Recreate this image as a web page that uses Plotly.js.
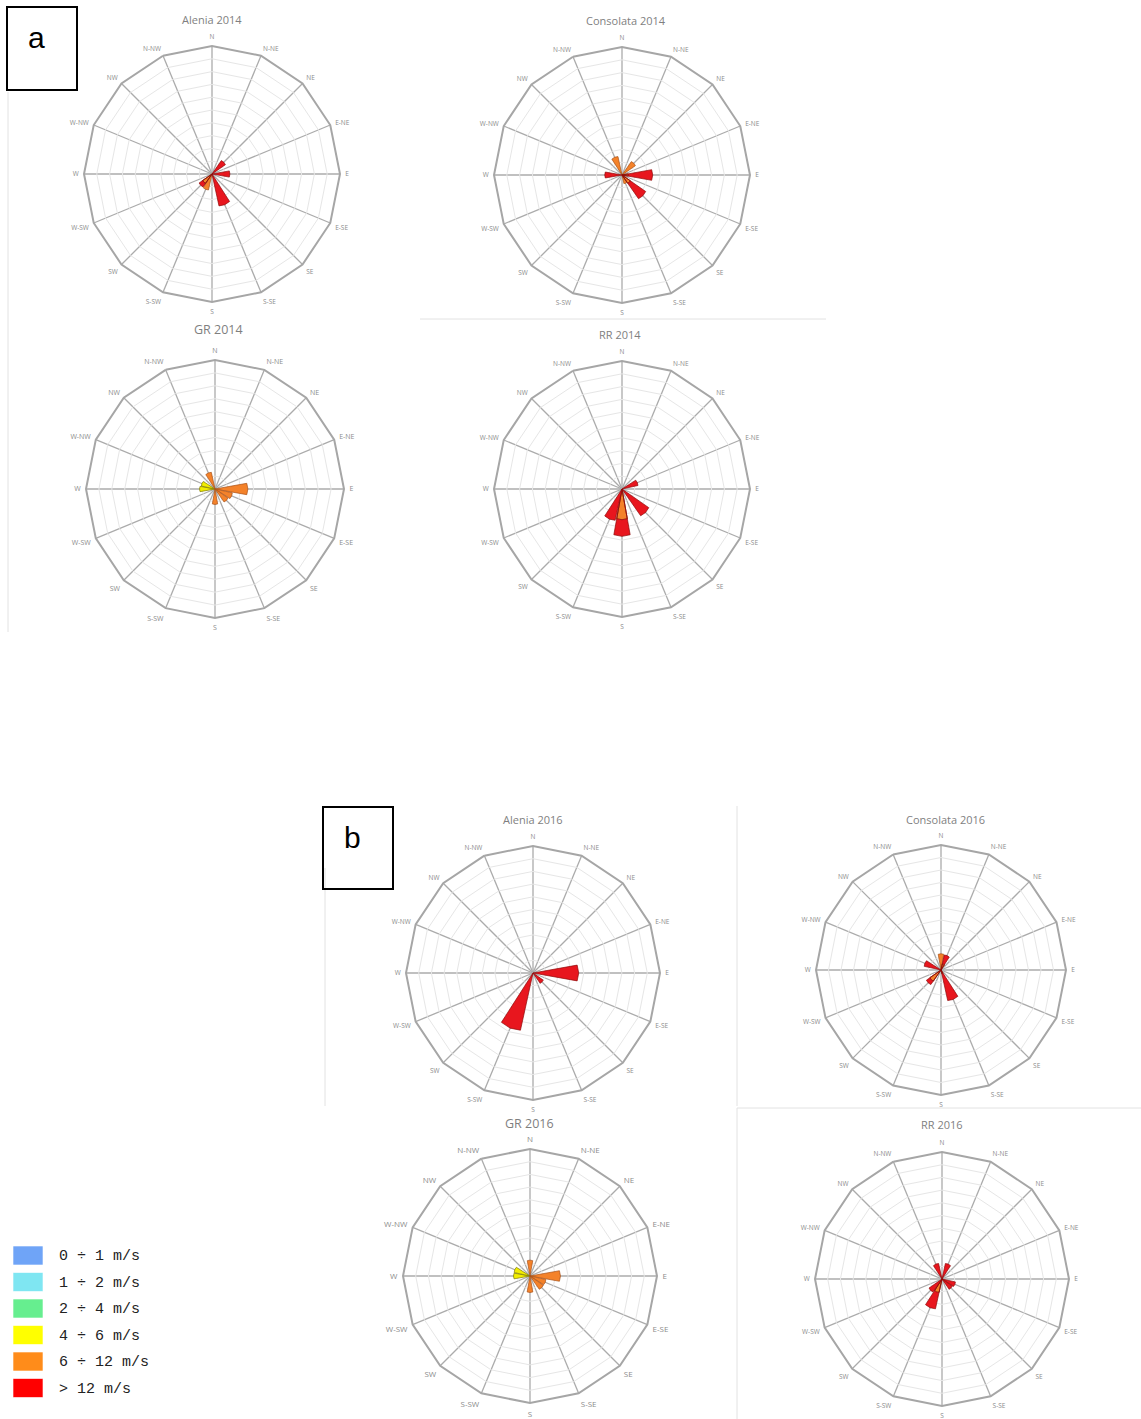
<!DOCTYPE html>
<html>
<head>
<meta charset="utf-8">
<script src="https://cdn.plot.ly/plotly-3.0.1.min.js"></script>
<style>
  html, body { margin: 0; padding: 0; background: #ffffff; }
  #chart { width: 1141px; height: 1419px; }
</style>
</head>
<body>
<div id="chart"></div>
<script>
// Wind direction sectors, clockwise from north
const directions = ['N', 'N-NE', 'NE', 'E-NE', 'E', 'E-SE', 'SE', 'S-SE',
                    'S', 'S-SW', 'SW', 'W-SW', 'W', 'W-NW', 'NW', 'N-NW'];

// Wind speed classes shown in the key
const speedClasses = ['0 ÷ 1 m/s', '1 ÷ 2 m/s', '2 ÷ 4 m/s', '4 ÷ 6 m/s', '6 ÷ 12 m/s', '> 12 m/s'];

// Station / year titles
const roseTitles = ['Alenia 2014', 'Consolata 2014', 'GR 2014', 'RR 2014',
                    'Alenia 2016', 'Consolata 2016', 'GR 2016', 'RR 2016'];

// Frequencies per sector (same order as directions), one array per speed class
const alenia2014_6to12 = [0, 0, 0, 0, 0, 0, 0, 0, 0, 1.3, 0.9, 0, 0, 0, 0, 0];
const alenia2014_gt12  = [0, 0, 1.3, 0, 1.4, 0, 0, 2.6, 0, 0, 0.35, 0, 0, 0, 0, 0];

const consolata2014_6to12 = [0, 0, 1.3, 0, 0.5, 0, 0.8, 0.7, 0, 0, 0, 0, 0, 0, 0, 1.5];
const consolata2014_gt12  = [0, 0, 0, 0, 1.9, 0, 1.5, 0, 0, 0, 0, 0, 1.35, 0, 0, 0];

const gr2014_4to6  = [0, 0, 0, 0, 0, 0, 0, 0, 0, 0, 0, 0, 1.2, 1.1, 0, 0];
const gr2014_6to12 = [0, 0, 0, 0, 2.55, 1.4, 1.25, 0, 1.2, 0, 0, 0, 0, 0, 0, 1.35];

const rr2014_6to12 = [0, 0, 0, 0, 0, 0, 0, 0, 2.4, 0, 0, 0, 0, 0, 0, 0];
const rr2014_gt12  = [0, 0, 0, 1.3, 0, 0, 2.6, 0, 1.3, 2.55, 0, 0, 0, 0, 0, 0];

const alenia2016_gt12 = [0, 0, 0, 0, 3.6, 0, 1.0, 0, 0, 4.7, 0, 0, 0, 0, 0, 0];

const consolata2016_6to12 = [1.3, 0.5, 0, 0, 0, 0, 0, 0.3, 0, 0, 1.1, 0, 0, 0, 0, 0];
const consolata2016_gt12  = [0, 0.75, 0, 0, 0, 0, 0, 2.25, 0, 0, 0.35, 0, 0, 1.4, 0, 0];

const gr2016_4to6  = [0, 0, 0, 0, 0, 0, 0, 0, 0, 0, 0, 0, 1.3, 1.3, 0, 0];
const gr2016_6to12 = [1.25, 0, 0, 0, 2.4, 1.3, 1.3, 0, 1.3, 0, 0, 0, 0, 0, 0, 0];

const rr2016_6to12 = [0, 0, 0, 0, 0, 0, 0, 0, 0, 1.1, 0, 0, 0, 0, 0, 0];
const rr2016_gt12  = [0, 1.27, 0, 0, 0, 1.1, 1.0, 0, 0, 1.35, 1.27, 0, 0, 0, 0, 1.27];

// Series drawn in each rose: [speed class index, values], stacked inner to outer
const roseSeries = [
  [[4, alenia2014_6to12], [5, alenia2014_gt12]],
  [[4, consolata2014_6to12], [5, consolata2014_gt12]],
  [[3, gr2014_4to6], [4, gr2014_6to12]],
  [[4, rr2014_6to12], [5, rr2014_gt12]],
  [[5, alenia2016_gt12]],
  [[4, consolata2016_6to12], [5, consolata2016_gt12]],
  [[3, gr2016_4to6], [4, gr2016_6to12]],
  [[4, rr2016_6to12], [5, rr2016_gt12]]
];

// ---- styling and placement ----
const W = 1141, H = 1419;
const keyColors  = ['#6fa4f7', '#7fe6f2', '#66ee8f', '#ffff00', '#ff8c1a', '#ff0000'];
const barFill    = ['#6fa4f7', '#7fe6f2', '#66ee8f', '#f2ee00', '#f4822a', '#e8161e'];
const barEdge    = ['#3a6fc0', '#3aa8b8', '#2f9a55', '#7e7a00', '#a8521a', '#8e0a0a'];

// rose centres and outer radii in pixels
const roseCenters = [[212, 174], [622, 175], [215, 489], [622, 489],
                     [533, 973], [941, 970], [530, 1276], [942, 1279]];
const roseRadii = [128, 128, 129, 128, 127, 125, 127, 127];
const titlePos = [[212, 20], [626, 21], [218, 329], [620, 335],
                  [533, 819], [945, 820], [529, 1123], [942, 1124]];
const titleSize = [11, 11, 12.5, 11, 11, 11, 12.5, 11];
const tickSize  = [6.5, 6.5, 7, 6.5, 6.5, 6.5, 8, 6.5];

const px = x => x / W;
const py = y => 1 - y / H;

const traces = [];
const layout = {
  width: W, height: H,
  margin: {l: 0, r: 0, t: 0, b: 0},
  paper_bgcolor: '#ffffff',
  showlegend: false,
  font: {family: 'Open Sans, sans-serif'},
  annotations: [],
  shapes: []
};

roseCenters.forEach((c, i) => {
  const key = i === 0 ? 'polar' : 'polar' + (i + 1);
  const [cx, cy] = c;
  const R = roseRadii[i];
  layout[key] = {
    domain: {
      x: [px(cx - R), px(cx + R)],
      y: [py(cy + R), py(cy - R)]
    },
    gridshape: 'linear',
    bgcolor: '#ffffff',
    barmode: 'stack',
    bargap: 0.1,
    radialaxis: {
      range: [0, 10], dtick: 1, tick0: 0,
      showticklabels: false, ticks: '', showline: false,
      gridcolor: '#e6e6e6', gridwidth: 1
    },
    angularaxis: {
      type: 'category', categoryarray: directions,
      direction: 'clockwise', rotation: 90,
      showline: true, linecolor: '#a6a6a6', linewidth: 2,
      gridcolor: '#ababab', gridwidth: 1.3,
      ticks: 'outside', ticklen: 3, tickcolor: 'rgba(0,0,0,0)',
      tickfont: {size: tickSize[i], color: '#8c8c8c', family: 'Open Sans, sans-serif'}
    }
  };

  roseSeries[i].forEach(([cls, vals]) => {
    traces.push({
      type: 'barpolar',
      subplot: key,
      name: speedClasses[cls],
      theta: directions,
      r: vals,
      marker: {
        color: barFill[cls],
        line: {color: barEdge[cls], width: vals.map(v => v > 0 ? 0.7 : 0)}
      },
      hoverinfo: 'skip'
    });
  });

  layout.annotations.push({
    xref: 'paper', yref: 'paper',
    x: px(titlePos[i][0]), y: py(titlePos[i][1]),
    xanchor: 'center', yanchor: 'middle', showarrow: false,
    text: roseTitles[i],
    font: {size: titleSize[i], color: '#7f7f7f', family: 'Open Sans, sans-serif'}
  });
});

// panel letters in boxes
const panelLetters = [['a', 7, 7, 77, 90, 42, 37.5], ['b', 323, 807, 393, 889, 358, 837.5]];
panelLetters.forEach(([t, x0, y0, x1, y1, tx, ty]) => {
  layout.shapes.push({
    type: 'rect', xref: 'paper', yref: 'paper',
    x0: px(x0), x1: px(x1), y0: py(y1), y1: py(y0),
    line: {color: '#000000', width: 2}, fillcolor: 'rgba(0,0,0,0)'
  });
  layout.annotations.push({
    xref: 'paper', yref: 'paper', x: px(tx - 6), y: py(ty),
    xanchor: 'center', yanchor: 'middle', showarrow: false,
    text: t, font: {size: 30, color: '#000000', family: 'Liberation Sans, Arial, sans-serif'}
  });
});

// faint frame lines between rose images
const frameLines = [
  [420, 319, 826, 319], [8, 92, 8, 632],
  [325, 868, 325, 1106], [737, 806, 737, 1106],
  [737, 1108, 1141, 1108], [737, 1108, 737, 1419]
];
frameLines.forEach(([x0, y0, x1, y1]) => {
  layout.shapes.push({
    type: 'line', xref: 'paper', yref: 'paper', layer: 'below',
    x0: px(x0), y0: py(y0), x1: px(x1), y1: py(y1),
    line: {color: '#e2e2e2', width: 1}
  });
});

// speed class key
speedClasses.forEach((label, k) => {
  const yc = 1255.5 + k * 26.5;
  layout.shapes.push({
    type: 'rect', xref: 'paper', yref: 'paper',
    x0: px(13), x1: px(43), y0: py(yc + 9.5), y1: py(yc - 9.5),
    line: {color: 'rgba(255,255,255,0.6)', width: 1}, fillcolor: keyColors[k]
  });
  layout.annotations.push({
    xref: 'paper', yref: 'paper', x: px(57), y: py(yc + 1),
    xanchor: 'left', yanchor: 'middle', showarrow: false,
    text: label,
    font: {size: 15, color: '#222222', family: 'Liberation Mono, DejaVu Sans Mono, monospace'}
  });
});

Plotly.newPlot('chart', traces, layout, {displayModeBar: false, staticPlot: true});
</script>
</body>
</html>
